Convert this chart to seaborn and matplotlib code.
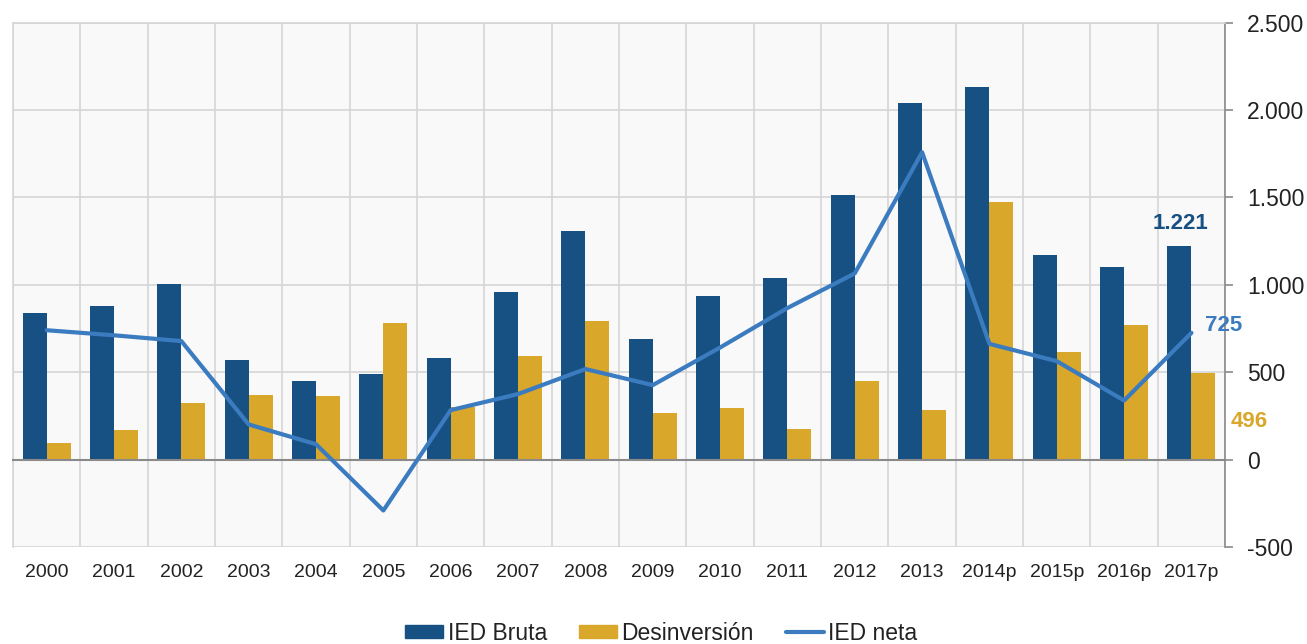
import numpy as np
import pandas as pd
import matplotlib.pyplot as plt
import seaborn as sns
from matplotlib.ticker import FuncFormatter
from matplotlib.patches import Patch
from matplotlib.lines import Line2D

# Datos (millones)
years = ['2000', '2001', '2002', '2003', '2004', '2005', '2006', '2007', '2008',
         '2009', '2010', '2011', '2012', '2013', '2014p', '2015p', '2016p', '2017p']
ied_bruta = [836, 881, 1004, 568, 451, 490, 584, 959, 1307,
             688, 938, 1037, 1512, 2037, 2129, 1170, 1104, 1221]
desinversion = [96, 170, 324, 371, 363, 781, 303, 590, 791,
                264, 293, 176, 447, 281, 1471, 615, 768, 496]
ied_neta = [740, 711, 678, 201, 88, -291, 283, 375, 518,
            426, 641, 867, 1065, 1758, 662, 563, 338, 725]
y_ticks = [-500, 0, 500, 1000, 1500, 2000, 2500]

blue = '#175082'
gold = '#d9a729'
line_blue = '#3b7bc0'
grid_c = '#d6d6d6'
axis_c = '#8a8a8a'

sns.set_style('white')
plt.rcParams['font.family'] = ['Liberation Sans', 'DejaVu Sans']

df = pd.DataFrame({
    'Año': years * 2,
    'Serie': ['IED Bruta'] * len(years) + ['Desinversión'] * len(years),
    'Valor': ied_bruta + desinversion,
})

fig = plt.figure(figsize=(13.07, 6.44), dpi=100)
ax = fig.add_axes([0.00995, 0.1506, 0.9274, 0.8144])
ax.set_facecolor('#f9f9f9')
ax.set_axisbelow(True)

sns.barplot(data=df, x='Año', y='Valor', hue='Serie', order=years,
            hue_order=['IED Bruta', 'Desinversión'], palette=[blue, gold],
            width=0.713, saturation=1, linewidth=0, legend=False, ax=ax)
sns.lineplot(x=np.arange(len(years)), y=ied_neta, color=line_blue,
             linewidth=3, ax=ax, zorder=5)

ax.set_xlim(-0.5, len(years) - 0.5)
ax.set_ylim(y_ticks[0], y_ticks[-1])
ax.set_xlabel('')
ax.set_ylabel('')

# eje x: etiquetas centradas, divisiones entre categorias
ax.set_xticks(np.arange(len(years)))
ax.set_xticklabels(years)
ax.set_xticks(np.arange(len(years) + 1) - 0.5, minor=True)
ax.spines['bottom'].set_position(('data', 0))
ax.spines['bottom'].set_color(axis_c)
ax.spines['bottom'].set_linewidth(1.5)
ax.tick_params(axis='x', which='major', length=0, pad=75, labelsize=14,
               labelcolor='#222222')
ax.tick_params(axis='x', which='minor', length=4, width=1.2, color=axis_c,
               direction='out')

# eje y a la derecha
ax.yaxis.tick_right()
ax.set_yticks(y_ticks)
ax.yaxis.set_major_formatter(FuncFormatter(lambda v, p: f'{int(v):,}'.replace(',', '.')))
ax.tick_params(axis='y', length=6, width=1.2, color=axis_c, pad=10,
               labelsize=16.5, labelcolor='#222222')

ax.grid(True, which='major', axis='y', color=grid_c, linewidth=1.2)
ax.grid(True, which='minor', axis='x', color=grid_c, linewidth=1.2)
ax.grid(False, which='major', axis='x')

ax.spines['right'].set_color(axis_c)
ax.spines['right'].set_linewidth(1.2)
for s in ['left', 'top']:
    ax.spines[s].set_color(grid_c)
    ax.spines[s].set_linewidth(1.2)

# etiquetas del ultimo dato
last = len(years) - 1
ax.annotate(f'{ied_bruta[-1]:,}'.replace(',', '.'), (last - 0.18, ied_bruta[-1]),
            xytext=(1, 16), textcoords='offset points', ha='center', va='center',
            color=blue, fontsize=16, fontweight='bold')
ax.annotate(str(ied_neta[-1]), (last, ied_neta[-1]),
            xytext=(23, 5), textcoords='offset points', ha='center', va='center',
            color=line_blue, fontsize=16, fontweight='bold')
ax.annotate(str(desinversion[-1]), (last + 0.18, desinversion[-1]),
            xytext=(33, -35), textcoords='offset points', ha='center', va='center',
            color=gold, fontsize=16, fontweight='bold', annotation_clip=False)

handles = [Patch(color=blue, label='IED Bruta'),
           Patch(color=gold, label='Desinversión'),
           Line2D([0], [0], color=line_blue, linewidth=3, label='IED neta')]
fig.legend(handles=handles, loc='center', bbox_to_anchor=(0.506, 0.017), ncol=3,
           frameon=False, fontsize=16.5, handlelength=1.65, handleheight=0.52,
           handletextpad=0.2, columnspacing=1.4, labelcolor='#222222')

fig.savefig('out.png', dpi=100)
